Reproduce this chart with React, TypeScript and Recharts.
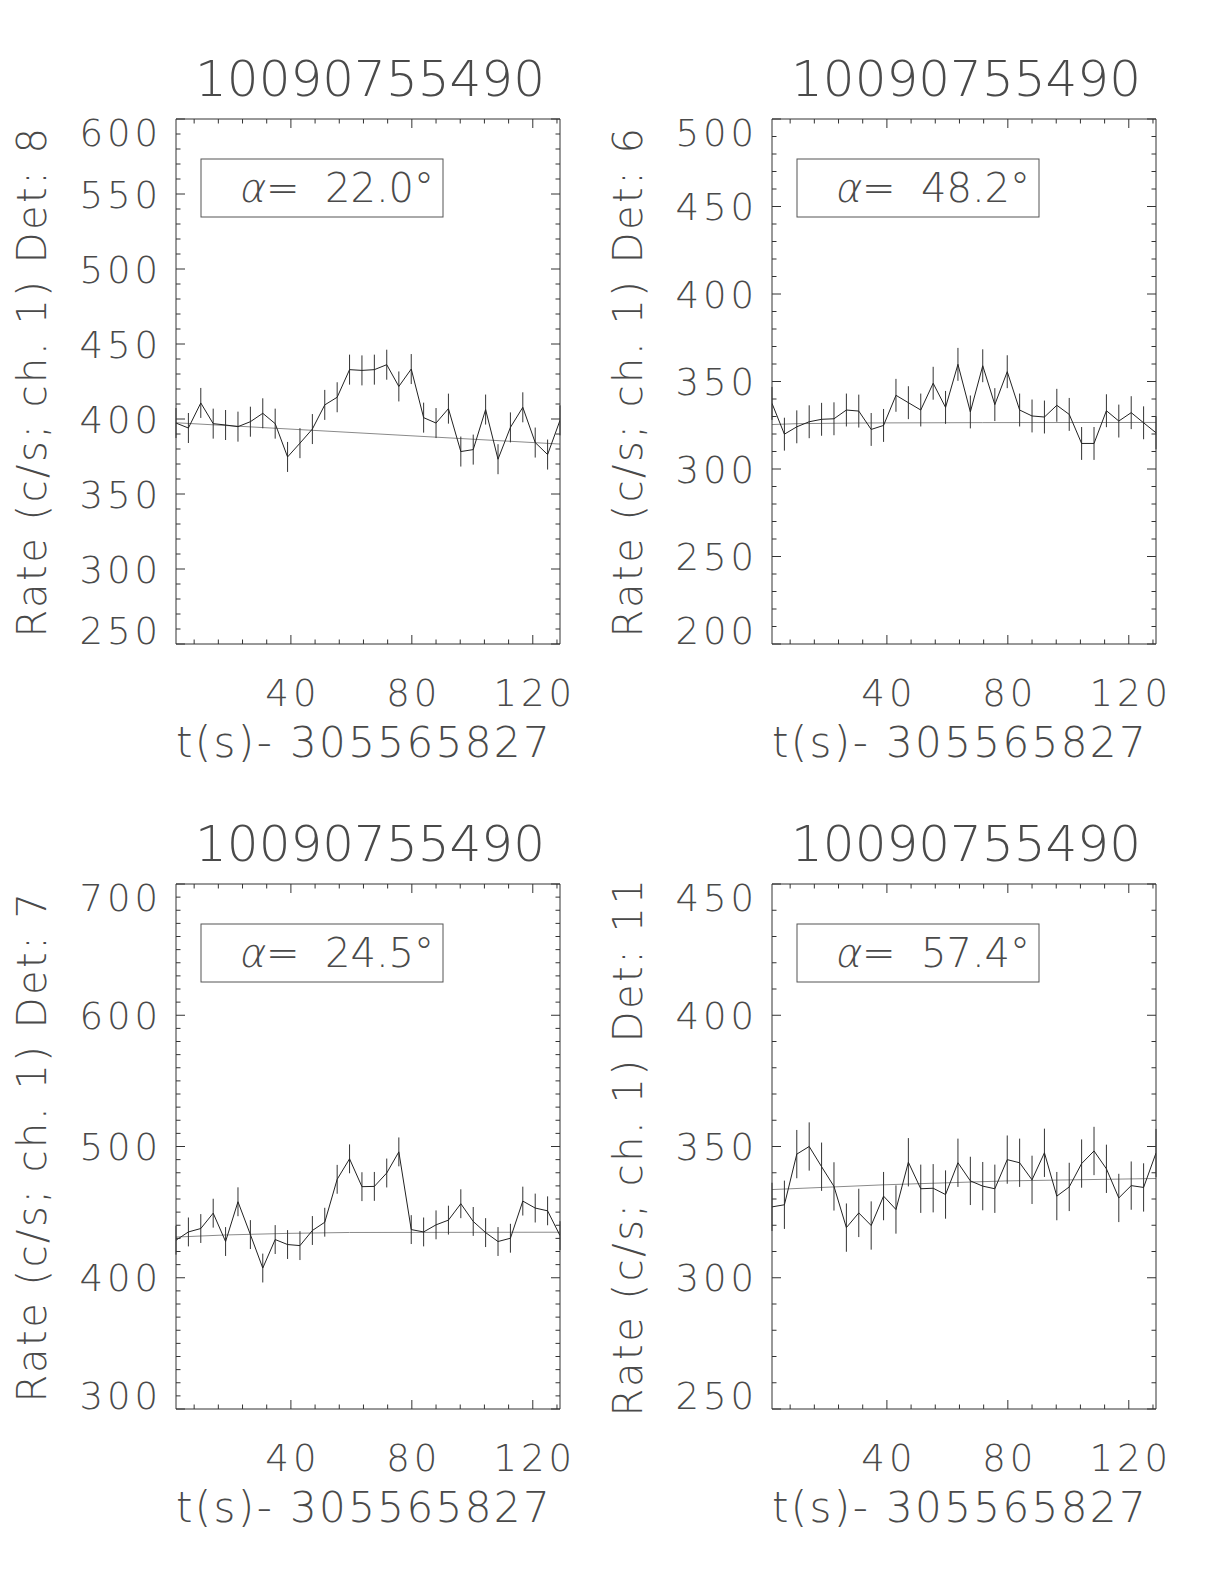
import React from "react";
import { ComposedChart, Line, XAxis, YAxis, ErrorBar } from "recharts";

const chartTitle = "10090755490";
const xAxisTitle = "t(s)- 305565827";

// bin centres, seconds after 305565827
const times = [
  2.0, 6.1, 10.2, 14.3, 18.4, 22.5, 26.6, 30.7, 34.8, 38.9, 43.0, 47.1, 51.2,
  55.3, 59.4, 63.5, 67.6, 71.7, 75.7, 79.8, 83.9, 88.0, 92.1, 96.2, 100.3,
  104.4, 108.5, 112.6, 116.7, 120.8, 124.9, 129.0,
];
const xDomain = [2.0, 129.0];
const xMajorTicks = [40, 80, 120];
const xMinorStep = 8;

// Det 8
const rateDet8 = [
  397.3, 394.0, 410.7, 396.9, 396.0, 394.9, 398.2, 403.8, 396.9, 374.7, 383.9,
  393.3, 409.4, 414.5, 432.9, 432.4, 432.9, 436.2, 421.7, 433.3, 400.9, 397.3,
  406.9, 378.3, 379.6, 406.3, 373.2, 394.4, 407.8, 384.3, 376.3, 399.1,
];
const errDet8 = 10;
const fitTimesDet8 = [2.0, 129.0];
const fitDet8 = [397.5, 383.3];
const yTicksDet8 = [250, 300, 350, 400, 450, 500, 550, 600];
const alphaDet8 = "22.0";

// Det 6
const rateDet6 = [
  337.5, 319.9, 324.1, 327.0, 328.4, 328.7, 333.7, 333.1, 322.6, 324.9, 342.1,
  337.9, 333.7, 349.0, 335.2, 359.8, 332.6, 359.0, 336.8, 355.6, 333.7, 330.3,
  329.7, 336.4, 331.2, 314.6, 314.6, 333.3, 327.4, 332.2, 326.4, 320.7,
];
const errDet6 = 9.4;
const fitTimesDet6 = [2.0, 10.2, 30.7, 71.7, 129.0];
const fitDet6 = [325.4, 325.9, 326.3, 326.5, 326.6];
const yTicksDet6 = [200, 250, 300, 350, 400, 450, 500];
const alphaDet6 = "48.2";

// Det 7
const rateDet7 = [
  428.6, 434.9, 437.5, 449.2, 427.6, 457.9, 432.9, 407.4, 429.1, 425.3, 424.5,
  436.0, 442.3, 475.0, 490.6, 469.4, 469.6, 479.8, 495.9, 436.7, 434.9, 440.3,
  443.9, 456.4, 442.9, 434.4, 427.6, 430.1, 458.4, 453.1, 451.0, 432.1,
];
const errDet7 = 11;
const fitTimesDet7 = [2.0, 18.4, 38.9, 59.4, 129.0];
const fitDet7 = [431.0, 432.6, 433.8, 434.5, 434.7];
const yTicksDet7 = [300, 400, 500, 600, 700];
const alphaDet7 = "24.5";

// Det 11
const rateDet11 = [
  327.0, 327.8, 347.1, 350.0, 342.3, 334.8, 319.1, 324.7, 319.9, 331.1, 326.0,
  344.0, 333.9, 334.1, 331.7, 343.8, 336.9, 334.9, 333.9, 345.0, 343.8, 337.3,
  347.6, 331.1, 334.6, 343.5, 348.3, 341.5, 330.4, 335.1, 334.4, 347.5,
];
const errDet11 = 9.2;
const fitTimesDet11 = [2.0, 38.9, 79.8, 129.0];
const fitDet11 = [333.6, 335.4, 336.9, 337.8];
const yTicksDet11 = [250, 300, 350, 400, 450];
const alphaDet11 = "57.4";

const panels = [
  { det: "8", rate: rateDet8, err: errDet8, fitT: fitTimesDet8, fit: fitDet8, yTicks: yTicksDet8, yMinor: 10, alpha: alphaDet8, col: 0, row: 0 },
  { det: "6", rate: rateDet6, err: errDet6, fitT: fitTimesDet6, fit: fitDet6, yTicks: yTicksDet6, yMinor: 10, alpha: alphaDet6, col: 1, row: 0 },
  { det: "7", rate: rateDet7, err: errDet7, fitT: fitTimesDet7, fit: fitDet7, yTicks: yTicksDet7, yMinor: 10, alpha: alphaDet7, col: 0, row: 1 },
  { det: "11", rate: rateDet11, err: errDet11, fitT: fitTimesDet11, fit: fitDet11, yTicks: yTicksDet11, yMinor: 10, alpha: alphaDet11, col: 1, row: 1 },
];

// chart box and plot frame (chart coords)
const CW = 612;
const CH = 792;
const PL = 176;
const PT = 119;
const PR = 560;
const PB = 644;
const COL_X = [0, 596];
const ROW_Y = [0, 765];
// room reserved by each axis
const AX_L = 60;
const AX_R = 10;
const AX_T = 10;
const AX_B = 30;

const INK = "#333";
const TEXT = "#4a4a4a";
const FONT = "'DejaVu Sans', sans-serif";
const TW = 200;
const TICK_SPACING = 4;

const steps = (lo: number, hi: number, step: number) => {
  const out: number[] = [];
  for (let v = lo; v <= hi + 1e-9; v += step) out.push(Math.round(v * 1000) / 1000);
  return out;
};

const xAllTicks = steps(xMinorStep, xDomain[1], xMinorStep);

function tickLen(major: boolean) {
  return major ? 9 : 4.5;
}

function LeftTick(props: any) {
  const { y, payload, majors } = props;
  const v = payload.value;
  const major = majors.includes(v);
  // end labels are kept inside the frame, like the original
  const cy = Math.min(Math.max(y, PT + 13.5), PB - 13.5);
  return (
    <g>
      <line x1={PL} x2={PL + tickLen(major)} y1={y} y2={y} stroke={INK} />
      {major && (
        <text
          x={PL - 18 + TICK_SPACING}
          y={cy + 13.5}
          textAnchor="end"
          fontSize={37}
          letterSpacing={TICK_SPACING}
          fontFamily={FONT}
          fontWeight={TW}
          fill={TEXT}
        >
          {v}
        </text>
      )}
    </g>
  );
}

function RightTick(props: any) {
  const { y, payload, majors } = props;
  const major = majors.includes(payload.value);
  return <line x1={PR} x2={PR - tickLen(major)} y1={y} y2={y} stroke={INK} />;
}

function BottomTick(props: any) {
  const { x, payload } = props;
  const v = payload.value;
  const major = xMajorTicks.includes(v);
  return (
    <g>
      <line x1={x} x2={x} y1={PB} y2={PB - tickLen(major)} stroke={INK} />
      {major && (
        <text
          x={x + TICK_SPACING / 2}
          y={PB + 62}
          textAnchor="middle"
          fontSize={37}
          letterSpacing={TICK_SPACING}
          fontFamily={FONT}
          fontWeight={TW}
          fill={TEXT}
        >
          {v}
        </text>
      )}
    </g>
  );
}

function TopTick(props: any) {
  const { x, payload } = props;
  const major = xMajorTicks.includes(payload.value);
  return <line x1={x} x2={x} y1={PT} y2={PT + tickLen(major)} stroke={INK} />;
}

function Panel({ p }: { p: (typeof panels)[number] }) {
  const rows = times.map((t, i) => {
    const k = p.fitT.indexOf(t);
    return { t, rate: p.rate[i], err: p.err, fit: k >= 0 ? p.fit[k] : null };
  });
  const yDomain = [p.yTicks[0], p.yTicks[p.yTicks.length - 1]];
  const yAll = steps(yDomain[0], yDomain[1], p.yMinor);
  const midY = (PT + PB) / 2;
  const midX = (PL + PR) / 2;

  return (
    <div style={{ position: "absolute", left: COL_X[p.col], top: ROW_Y[p.row], width: CW, height: CH }}>
      <ComposedChart
        width={CW}
        height={CH}
        data={rows}
        margin={{ top: PT - AX_T, right: CW - PR - AX_R, bottom: CH - PB - AX_B, left: PL - AX_L }}
      >
        <XAxis
          xAxisId="b"
          type="number"
          dataKey="t"
          domain={xDomain}
          allowDataOverflow
          ticks={xAllTicks}
          interval={0}
          height={AX_B}
          tickLine={false}
          axisLine={{ stroke: INK }}
          tick={<BottomTick />}
        />
        <XAxis
          xAxisId="top"
          orientation="top"
          type="number"
          dataKey="t"
          domain={xDomain}
          allowDataOverflow
          ticks={xAllTicks}
          interval={0}
          height={AX_T}
          tickLine={false}
          axisLine={{ stroke: INK }}
          tick={<TopTick />}
        />
        <YAxis
          yAxisId="l"
          type="number"
          domain={yDomain}
          allowDataOverflow
          ticks={yAll}
          interval={0}
          width={AX_L}
          tickLine={false}
          axisLine={{ stroke: INK }}
          tick={<LeftTick majors={p.yTicks} />}
        />
        <YAxis
          yAxisId="r"
          orientation="right"
          type="number"
          domain={yDomain}
          allowDataOverflow
          ticks={yAll}
          interval={0}
          width={AX_R}
          tickLine={false}
          axisLine={{ stroke: INK }}
          tick={<RightTick majors={p.yTicks} />}
        />
        <Line
          xAxisId="b"
          yAxisId="l"
          type="linear"
          dataKey="fit"
          connectNulls
          stroke="#8a8a8a"
          strokeWidth={1}
          dot={false}
          activeDot={false}
          isAnimationActive={false}
        />
        <Line
          xAxisId="b"
          yAxisId="l"
          type="linear"
          dataKey="rate"
          stroke="#222"
          strokeWidth={1}
          dot={false}
          activeDot={false}
          isAnimationActive={false}
        >
          <ErrorBar dataKey="err" direction="y" width={0} stroke="#333" strokeWidth={1} isAnimationActive={false} />
        </Line>
      </ComposedChart>
      <svg
        width={CW}
        height={CH}
        style={{ position: "absolute", left: 0, top: 0, pointerEvents: "none" }}
        fontFamily={FONT}
        fontWeight={TW}
        fill={TEXT}
      >
        <text x={midX + 2} y={PT - 23} textAnchor="middle" fontSize={50}>
          {chartTitle}
        </text>
        <text
          x={PL - 130}
          y={midY}
          textAnchor="middle"
          fontSize={40}
          letterSpacing={2.5}
          transform={`rotate(-90, ${PL - 130}, ${midY})`}
        >
          {`Rate (c/s; ch. 1) Det: ${p.det}`}
        </text>
        <text x={midX - 4} y={PB + 113} textAnchor="middle" fontSize={42} letterSpacing={2.4}>
          {xAxisTitle}
        </text>
        <rect x={PL + 25} y={PT + 40} width={242} height={58} fill="none" stroke="#555" strokeWidth={1} />
        <text x={PL + 62} y={PT + 83} fontSize={40} transform={`translate(${(PT + 83) * 0.2}, 0) skewX(-11.3)`}>
          α
        </text>
        <text x={PL + 90} y={PT + 83} fontSize={40}>
          =
        </text>
        <text x={PL + 149} y={PT + 83} fontSize={40}>
          {`${p.alpha}°`}
        </text>
      </svg>
    </div>
  );
}

export default function App() {
  return (
    <div style={{ position: "absolute", left: 0, top: 0, width: 1224, height: 1584, background: "#fff" }}>
      {panels.map((p) => (
        <Panel key={p.det} p={p} />
      ))}
    </div>
  );
}
